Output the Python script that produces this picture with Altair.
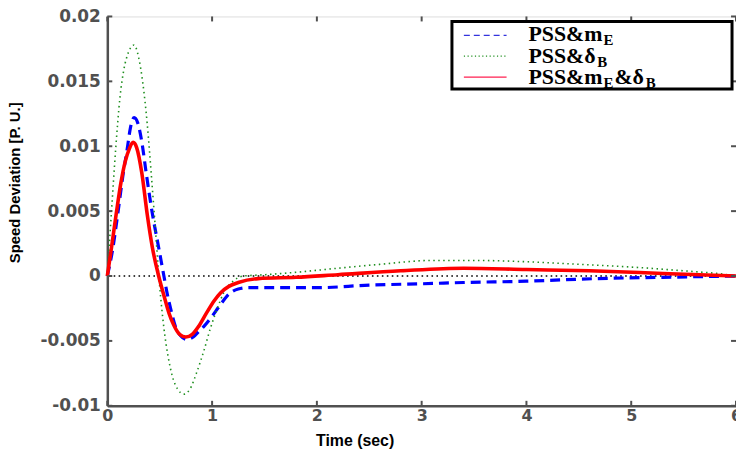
import altair as alt
import pandas as pd

# ---- data ----
t_blue = [0, 0.05, 0.1, 0.15, 0.19, 0.22, 0.256, 0.29, 0.33, 0.37, 0.43, 0.49, 0.54, 0.57,
          0.61, 0.65, 0.7, 0.76, 0.82, 0.87, 0.92, 1.0, 1.08, 1.16, 1.25, 1.35, 1.6, 2.0,
          2.5, 3.0, 3.4, 4.0, 4.66, 5.3, 6.0]
v_blue = [0, 0.0020, 0.0048, 0.0078, 0.0098, 0.0114, 0.0122, 0.0118, 0.0103, 0.0080, 0.0048,
          0.0022, 0, -0.0013, -0.0027, -0.0039, -0.0046, -0.0049, -0.0047, -0.0043, -0.0039,
          -0.0031, -0.0022, -0.0014, -0.0010, -0.0009, -0.0009, -0.0009, -0.0007, -0.0006,
          -0.0005, -0.0004, -0.0002, -0.0001, 0]

t_green = [0, 0.04, 0.08, 0.12, 0.16, 0.2, 0.255, 0.3, 0.34, 0.38, 0.42, 0.46, 0.5, 0.54,
           0.58, 0.62, 0.67, 0.73, 0.79, 0.85, 0.92, 0.985, 1.05, 1.11, 1.2, 1.3, 1.5, 1.82,
           2.2, 2.6, 3.1, 3.5, 4.0, 4.5, 4.98, 5.5, 5.92, 6.0]
v_green = [0, 0.0050, 0.0098, 0.0137, 0.0160, 0.0172, 0.0178, 0.0168, 0.0148, 0.0118, 0.0078,
           0.0035, -0.0008, -0.0040, -0.0062, -0.0077, -0.0087, -0.0091, -0.0087, -0.0075,
           -0.0058, -0.0040, -0.0025, -0.0013, -0.0004, 0.0, 0.0001, 0.0003, 0.0006, 0.0009,
           0.0012, 0.0012, 0.0011, 0.0009, 0.0007, 0.0004, 0.0001, 0.0]

t_red = [0, 0.04, 0.085, 0.13, 0.17, 0.21, 0.246, 0.28, 0.33, 0.38, 0.43, 0.49, 0.54, 0.59,
         0.635, 0.69, 0.75, 0.81, 0.87, 0.95, 1.02, 1.08, 1.16, 1.25, 1.44, 1.8, 2.2, 2.8,
         3.4, 4.0, 4.6, 5.3, 6.0]
v_red = [0, 0.0022, 0.0048, 0.0072, 0.0088, 0.0098, 0.0103, 0.0099, 0.0079, 0.0048, 0.0022,
         0, -0.0015, -0.0029, -0.0038, -0.0045, -0.0047, -0.0045, -0.0039, -0.0028, -0.0019,
         -0.0013, -0.0008, -0.0005, -0.0002, -0.0001, 0.0001, 0.0004, 0.0006, 0.0005, 0.0004,
         0.0002, 0]

x_ticks = [0, 1, 2, 3, 4, 5, 6]
y_ticks = [-0.01, -0.005, 0, 0.005, 0.01, 0.015, 0.02]
zero_level = [0]

legend_main = ["PSS&m", "PSS&\u03b4", "PSS&m"]
legend_sub = ["E", "B", "E"]
legend_mid = "&\u03b4"

# ---- layout ----
W, H = 633, 392
AX = "#505050"

xs = alt.Scale(domain=[0, 6], nice=False, zero=False)
ys = alt.Scale(domain=[-0.01, 0.02], nice=False, zero=False)

x_axis = alt.Axis(values=x_ticks, title="Time (sec)", labelExpr="'' + datum.value",
                  ticks=False, grid=False, labelFlush=False, labelOverlap=False,
                  labelFont="DejaVu Sans", labelFontWeight="bold", labelFontSize=16,
                  labelColor=AX, labelPadding=2, domainColor=AX, domainWidth=2.5,
                  titleFont="Liberation Sans", titleFontSize=16, titleFontWeight="bold",
                  titleColor="black", titleX=249, titleY=40, titleBaseline="alphabetic",
                  titleAlign="center")
y_axis = alt.Axis(values=y_ticks, title="Speed Deviation [P. U.]", labelExpr="'' + datum.value",
                  ticks=False, grid=False, labelFlush=False, labelOverlap=False,
                  labelFont="DejaVu Sans", labelFontWeight="bold", labelFontSize=17,
                  labelColor=AX, labelPadding=7, domainColor=AX, domainWidth=2.5,
                  titleFont="Liberation Sans", titleFontSize=15, titleFontWeight="bold",
                  titleColor="black", titleX=-85, titleY=167, titleBaseline="bottom",
                  titleAlign="center", titleAngle=-90)

X = lambda f: alt.X(f, type="quantitative", scale=xs, axis=x_axis)
Y = lambda f: alt.Y(f, type="quantitative", scale=ys, axis=y_axis)

df_blue = pd.DataFrame({"t": t_blue, "v": v_blue})
df_green = pd.DataFrame({"t": t_green, "v": v_green})
df_red = pd.DataFrame({"t": t_red, "v": v_red})
df_zero = pd.DataFrame({"v": zero_level})
df_xt = pd.DataFrame({"t": x_ticks})
df_yt = pd.DataFrame({"v": y_ticks})
one = pd.DataFrame({"k": [0]})

zero_line = alt.Chart(df_zero).mark_rule(color="black", strokeWidth=1.6, strokeDash=[1.6, 3.4]).encode(y=Y("v"))

blue = alt.Chart(df_blue).mark_line(color="#0000ff", strokeWidth=3.2, strokeDash=[10, 6],
                                    interpolate="monotone").encode(x=X("t"), y=Y("v"))
green = alt.Chart(df_green).mark_line(color="#1f8f1f", strokeWidth=1.6, strokeDash=[1.5, 3.5],
                                      interpolate="monotone").encode(x=X("t"), y=Y("v"))
red = alt.Chart(df_red).mark_line(color="#ff0000", strokeWidth=3.6,
                                  interpolate="monotone").encode(x=X("t"), y=Y("v"))

tick_style = dict(color=AX, strokeWidth=2)
tb = alt.Chart(df_xt).mark_rule(**tick_style).encode(x=X("t"), y=alt.value(H), y2=alt.value(H - 5))
tt = alt.Chart(df_xt).mark_rule(**tick_style).encode(x=X("t"), y=alt.value(0), y2=alt.value(5))
tl = alt.Chart(df_yt).mark_rule(**tick_style).encode(y=Y("v"), x=alt.value(0), x2=alt.value(5))
tr = alt.Chart(df_yt).mark_rule(**tick_style).encode(y=Y("v"), x=alt.value(W), x2=alt.value(W - 5))

# ---- legend ----
box = alt.Chart(one).mark_rect(fill="white", stroke="black", strokeWidth=3).encode(
    x=alt.value(347), x2=alt.value(629), y=alt.value(5), y2=alt.value(73))
lg_blue = alt.Chart(one).mark_rule(color="#3333dd", strokeWidth=1.3, strokeDash=[6, 4]).encode(
    x=alt.value(359), x2=alt.value(402), y=alt.value(19))
lg_green = alt.Chart(one).mark_rule(color="#1f8f1f", strokeWidth=1.3, strokeDash=[1.2, 2.5]).encode(
    x=alt.value(359), x2=alt.value(402), y=alt.value(40))
lg_red = alt.Chart(one).mark_rule(color="#ff2050", strokeWidth=1.3).encode(
    x=alt.value(359), x2=alt.value(402), y=alt.value(61))

F, S = 22, 15
serif = "Liberation Serif"
def txt(s, x, y, size):
    return alt.Chart(one).mark_text(font=serif, fontWeight="bold", fontSize=size, align="left",
                                    baseline="alphabetic", color="black").encode(
        x=alt.value(x), y=alt.value(y), text=alt.value(s))

x0 = 424
w_pssm = 3.389 * F + 1
w_pssd = 3.11 * F + 1
w_sub = 0.667 * S + 1
w_mid = 1.39 * F + 1
legend_layers = [
    txt(legend_main[0], x0, 25, F), txt(legend_sub[0], x0 + w_pssm, 29, S),
    txt(legend_main[1], x0, 47, F), txt(legend_sub[1], x0 + w_pssd, 51, S),
    txt(legend_main[2], x0, 68, F), txt(legend_sub[2], x0 + w_pssm, 72, S),
    txt(legend_mid, x0 + w_pssm + w_sub, 68, F),
    txt(legend_sub[1], x0 + w_pssm + w_sub + w_mid, 72, S),
]

chart = alt.layer(
    zero_line, blue, green, red, tb, tt, tl, tr, box, lg_blue, lg_green, lg_red, *legend_layers
).properties(
    width=W, height=H,
    autosize=alt.AutoSizeParams(type="none"),
    padding={"left": 100, "top": 7, "right": 0, "bottom": 45},
).configure_view(stroke=AX, strokeWidth=2.5).configure(background="white")

chart.save("out.html", embed_options={"renderer": "svg", "actions": False})
